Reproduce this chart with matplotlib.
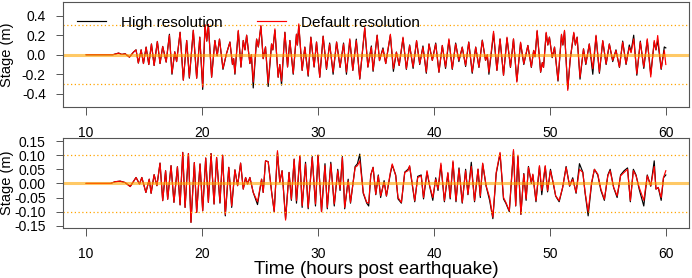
import matplotlib
matplotlib.use('Agg')
import matplotlib.pyplot as plt

plt.rcParams['font.family'] = ['Liberation Sans', 'DejaVu Sans']

# ---- stage turning points, (hours, metres) ----
# top panel, default resolution (red)
def_top = [
    (10.0, 0.0), (12.3, 0.0), (12.8, 0.017), (13.07, 0.003), (13.36, 0.01),
    (13.73, -0.024), (14.08, 0.027), (14.3, 0.05), (14.5, -0.085), (14.74, 0.05),
    (14.94, -0.09), (15.17, 0.078), (15.4, -0.1), (15.63, 0.11), (15.86, -0.11),
    (16.14, 0.136), (16.37, -0.09), (16.6, 0.085), (16.9, -0.075), (17.18, 0.2),
    (17.4, -0.19), (17.64, 0.03), (17.8, -0.07), (18.1, 0.23), (18.38, -0.26),
    (18.67, 0.146), (18.9, -0.23), (19.24, 0.25), (19.53, -0.24), (19.8, 0.18),
    (20.05, -0.33), (20.25, 0.31), (20.4, 0.14), (20.54, 0.31), (20.82, -0.23),
    (21.1, 0.146), (21.3, -0.01), (21.5, 0.16), (21.8, -0.14), (22.1, 0.01),
    (22.4, 0.13), (22.62, -0.1), (22.72, -0.04), (22.83, -0.19), (23.12, 0.25),
    (23.35, -0.126), (23.55, 0.146), (23.7, 0.05), (23.84, 0.2), (24.12, -0.09),
    (24.25, 0.0), (24.41, -0.28), (24.7, 0.16), (24.85, 0.08), (25.07, 0.3),
    (25.27, -0.04), (25.47, 0.08), (25.7, -0.29), (25.99, 0.11), (26.1, 0.05),
    (26.28, 0.265), (26.56, -0.23), (26.7, -0.1), (26.85, -0.27), (27.14, 0.23),
    (27.37, -0.125), (27.57, 0.146), (27.86, -0.19), (28.14, 0.21), (28.22, 0.1),
    (28.34, 0.316), (28.63, -0.16), (28.86, 0.078), (29.15, -0.21), (29.38, 0.18),
    (29.66, -0.125), (29.87, 0.13), (30.15, -0.23), (30.44, 0.19), (30.73, -0.143),
    (31.0, 0.11), (31.3, -0.177), (31.6, 0.13), (31.9, -0.126), (32.2, 0.11),
    (32.45, -0.177), (32.74, 0.163), (33.0, -0.16), (33.3, 0.146), (33.6, -0.245),
    (34.03, 0.28), (34.3, -0.126), (34.6, 0.078), (34.75, -0.16), (35.1, 0.2),
    (35.3, -0.06), (35.6, 0.06), (35.84, -0.09), (36.24, 0.21), (36.5, -0.143),
    (36.76, 0.027), (37.0, -0.11), (37.33, 0.18), (37.62, -0.143), (37.9, 0.095),
    (38.2, -0.126), (38.5, 0.146), (38.77, -0.092), (39.05, 0.078), (39.34, -0.177),
    (39.57, 0.11), (39.86, -0.058), (40.15, 0.11), (40.43, -0.177), (40.72, 0.095),
    (41.0, -0.126), (41.29, 0.163), (41.58, -0.143), (41.87, 0.11), (42.15, -0.058),
    (42.44, 0.078), (42.73, -0.109), (43.0, 0.129), (43.3, -0.177), (43.6, 0.078),
    (43.88, -0.126), (44.17, 0.146), (44.45, -0.058), (44.6, 0.0), (44.74, -0.177),
    (45.14, 0.24), (45.43, -0.16), (45.7, 0.163), (46.0, -0.21), (46.3, 0.18),
    (46.6, -0.126), (46.86, 0.163), (47.15, -0.28), (47.47, 0.129), (47.75, -0.092),
    (48.1, 0.095), (48.4, -0.126), (48.6, 0.044), (48.72, -0.02), (48.9, 0.25),
    (49.2, -0.177), (49.35, -0.08), (49.45, -0.13), (49.68, 0.23), (49.82, 0.1),
    (49.96, 0.18), (50.2, -0.024), (50.4, 0.078), (50.7, -0.26), (51.0, 0.21),
    (51.12, 0.1), (51.26, 0.25), (51.54, -0.365), (51.75, -0.05), (52.06, 0.23),
    (52.2, 0.1), (52.35, 0.18), (52.6, -0.23), (52.9, 0.06), (53.1, -0.092),
    (53.4, 0.11), (53.7, -0.143), (53.98, 0.2), (54.27, -0.177), (54.56, 0.146),
    (54.85, -0.092), (55.13, 0.11), (55.42, -0.058), (55.7, 0.044), (56.0, -0.126),
    (56.28, 0.129), (56.57, -0.092), (56.85, 0.078), (57.0, 0.02), (57.23, 0.163),
    (57.5, -0.194), (57.8, 0.129), (58.1, -0.126), (58.4, 0.163), (58.7, -0.228),
    (59.0, 0.146), (59.15, 0.05), (59.3, 0.197), (59.6, -0.143), (59.87, 0.044),
    (60.0, -0.1),
]

# top panel, high resolution (black)
hi_top = [
    (10.0, 0.0), (12.3, 0.0), (12.8, 0.017), (13.07, 0.003), (13.36, 0.01),
    (13.73, -0.024), (14.08, 0.027), (14.3, 0.05), (14.5, -0.085), (14.74, 0.05),
    (14.94, -0.09), (15.17, 0.078), (15.4, -0.1), (15.63, 0.11), (15.86, -0.11),
    (16.14, 0.136), (16.37, -0.09), (16.6, 0.085), (16.9, -0.075), (17.18, 0.21),
    (17.4, -0.2), (17.64, 0.03), (17.8, -0.07), (18.1, 0.23), (18.38, -0.26),
    (18.67, 0.146), (18.9, -0.24), (19.24, 0.25), (19.53, -0.24), (19.8, 0.18),
    (20.05, -0.355), (20.25, 0.3), (20.4, 0.14), (20.54, 0.31), (20.82, -0.23),
    (21.1, 0.146), (21.3, -0.01), (21.5, 0.16), (21.8, -0.15), (22.1, 0.01),
    (22.4, 0.13), (22.62, -0.1), (22.72, -0.04), (22.83, -0.2), (23.12, 0.24),
    (23.35, -0.126), (23.55, 0.146), (23.7, 0.05), (23.84, 0.2), (24.12, -0.09),
    (24.25, 0.0), (24.41, -0.34), (24.7, 0.16), (24.85, 0.08), (25.07, 0.29),
    (25.27, -0.04), (25.47, 0.08), (25.7, -0.325), (25.99, 0.11), (26.1, 0.05),
    (26.28, 0.25), (26.56, -0.23), (26.7, -0.1), (26.85, -0.31), (27.14, 0.23),
    (27.37, -0.125), (27.57, 0.146), (27.86, -0.2), (28.14, 0.21), (28.22, 0.1),
    (28.34, 0.3), (28.63, -0.16), (28.86, 0.078), (29.15, -0.22), (29.38, 0.18),
    (29.66, -0.125), (29.87, 0.13), (30.15, -0.23), (30.44, 0.19), (30.73, -0.15),
    (31.0, 0.12), (31.3, -0.2), (31.6, 0.13), (31.9, -0.13), (32.2, 0.12),
    (32.45, -0.2), (32.74, 0.15), (33.0, -0.16), (33.3, 0.16), (33.6, -0.25),
    (34.03, 0.27), (34.3, -0.126), (34.6, 0.09), (34.75, -0.17), (35.1, 0.2),
    (35.3, -0.06), (35.6, 0.07), (35.84, -0.09), (36.24, 0.2), (36.5, -0.17),
    (36.76, 0.027), (37.0, -0.11), (37.33, 0.17), (37.62, -0.15), (37.9, 0.1),
    (38.2, -0.14), (38.5, 0.14), (38.77, -0.1), (39.05, 0.09), (39.34, -0.19),
    (39.57, 0.11), (39.86, -0.058), (40.15, 0.12), (40.43, -0.18), (40.72, 0.095),
    (41.0, -0.14), (41.29, 0.15), (41.58, -0.15), (41.87, 0.12), (42.15, -0.07),
    (42.44, 0.078), (42.73, -0.12), (43.0, 0.13), (43.3, -0.19), (43.6, 0.078),
    (43.88, -0.13), (44.17, 0.15), (44.45, -0.058), (44.6, 0.0), (44.74, -0.2),
    (45.14, 0.22), (45.43, -0.16), (45.7, 0.16), (46.0, -0.21), (46.3, 0.17),
    (46.6, -0.13), (46.86, 0.16), (47.15, -0.27), (47.47, 0.12), (47.75, -0.1),
    (48.1, 0.095), (48.4, -0.13), (48.6, 0.044), (48.72, -0.02), (48.9, 0.24),
    (49.2, -0.18), (49.35, -0.08), (49.45, -0.13), (49.68, 0.22), (49.82, 0.1),
    (49.96, 0.18), (50.2, -0.03), (50.4, 0.078), (50.7, -0.27), (51.0, 0.2),
    (51.12, 0.1), (51.26, 0.24), (51.54, -0.35), (51.75, -0.05), (52.06, 0.22),
    (52.2, 0.1), (52.35, 0.18), (52.6, -0.25), (52.9, 0.06), (53.1, -0.1),
    (53.4, 0.11), (53.7, -0.2), (53.98, 0.19), (54.27, -0.19), (54.56, 0.14),
    (54.85, -0.1), (55.13, 0.11), (55.42, -0.07), (55.7, 0.05), (56.0, -0.13),
    (56.28, 0.14), (56.57, -0.1), (56.85, 0.1), (57.0, 0.03), (57.23, 0.2),
    (57.5, -0.21), (57.8, 0.14), (58.1, -0.14), (58.4, 0.15), (58.7, -0.2),
    (59.0, 0.13), (59.15, 0.05), (59.3, 0.15), (59.6, -0.15), (59.87, 0.08),
    (60.0, 0.07),
]

# bottom panel, default resolution (red)
def_bot = [
    (10.0, 0.0), (12.1, 0.0), (12.5, 0.006), (12.93, 0.008), (13.36, 0.003),
    (13.8, -0.011), (14.3, 0.021), (14.6, -0.002), (14.8, 0.021), (15.15, -0.032),
    (15.44, 0.015), (15.6, -0.035), (15.86, 0.031), (16.1, -0.008), (16.37, 0.072),
    (16.6, -0.061), (16.85, 0.045), (17.03, -0.056), (17.32, 0.063), (17.57, -0.067),
    (17.87, 0.059), (18.1, -0.076), (18.33, 0.11), (18.53, -0.085), (18.82, 0.106),
    (19.04, -0.138), (19.33, 0.074), (19.53, -0.103), (19.82, 0.069), (20.05, -0.097),
    (20.31, 0.09), (20.54, -0.067), (20.77, 0.106), (21.03, -0.073), (21.25, 0.092),
    (21.54, -0.067), (21.77, 0.1), (22.0, -0.11), (22.3, 0.057), (22.55, -0.08),
    (22.83, 0.048), (23.06, -0.008), (23.32, 0.072), (23.55, -0.02), (23.75, 0.021),
    (23.92, -0.002), (24.12, 0.021), (24.41, -0.032), (24.78, -0.065), (25.13, 0.015),
    (25.27, -0.032), (25.47, 0.08), (25.7, 0.077), (26.0, -0.032), (26.22, -0.1),
    (26.5, 0.116), (26.7, 0.004), (26.9, 0.045), (27.2, -0.13), (27.5, 0.039),
    (27.7, -0.056), (27.94, 0.086), (28.14, -0.061), (28.43, 0.098), (28.63, -0.079),
    (28.92, 0.069), (29.15, -0.085), (29.5, 0.092), (29.78, -0.073), (30.0, 0.1),
    (30.3, -0.1), (30.6, 0.063), (30.8, -0.085), (31.1, 0.069), (31.4, -0.073),
    (31.7, 0.045), (31.9, -0.02), (32.1, 0.092), (32.3, -0.085), (32.6, 0.009),
    (32.8, -0.067), (33.2, 0.057), (33.4, 0.063), (33.6, 0.08), (33.9, -0.032),
    (34.2, -0.067), (34.37, -0.07), (34.55, 0.03), (34.75, 0.057), (34.98, -0.038),
    (35.2, 0.027), (35.4, -0.044), (35.7, 0.004), (35.9, -0.044), (36.24, 0.039),
    (36.4, 0.069), (36.7, 0.027), (36.9, -0.05), (37.19, -0.067), (37.48, 0.039),
    (37.76, 0.045), (37.9, 0.063), (38.2, -0.02), (38.34, -0.061), (38.6, 0.021),
    (38.9, 0.027), (39.1, -0.05), (39.4, 0.045), (39.63, -0.008), (39.9, -0.05),
    (40.15, 0.015), (40.35, -0.02), (40.6, 0.072), (40.9, -0.061), (41.2, 0.039),
    (41.4, -0.05), (41.64, 0.08), (41.9, -0.061), (42.16, 0.051), (42.44, -0.067),
    (42.73, 0.045), (42.93, -0.038), (43.22, 0.06), (43.5, -0.061), (43.8, 0.051),
    (44.0, -0.044), (44.2, 0.072), (44.5, -0.008), (44.8, -0.05), (45.08, -0.12),
    (45.37, 0.039), (45.7, 0.11), (46.0, -0.05), (46.2, -0.067), (46.5, -0.097),
    (46.86, 0.12), (47.05, -0.079), (47.24, 0.1), (47.5, -0.109), (47.75, 0.033),
    (47.95, -0.055), (48.15, 0.057), (48.4, 0.004), (48.53, 0.033), (48.8, -0.061),
    (49.1, 0.063), (49.3, -0.025), (49.6, 0.063), (49.8, -0.026), (50.05, 0.045),
    (50.34, -0.008), (50.5, -0.044), (50.8, -0.061), (51.1, -0.014), (51.4, 0.057),
    (51.7, -0.008), (51.97, 0.015), (52.26, -0.032), (52.55, 0.05), (52.84, 0.039),
    (53.04, -0.032), (53.3, -0.1), (53.6, 0.004), (53.84, 0.05), (54.13, 0.033),
    (54.4, -0.02), (54.7, -0.056), (55.0, 0.027), (55.2, 0.045), (55.5, -0.014),
    (55.8, -0.044), (56.1, 0.027), (56.4, 0.039), (56.7, 0.05), (56.94, -0.061),
    (57.2, 0.045), (57.43, 0.027), (57.7, -0.014), (58.1, -0.06), (58.4, 0.027),
    (58.7, -0.008), (59.0, 0.06), (59.15, -0.02), (59.35, -0.014), (59.6, -0.05),
    (59.8, 0.021), (60.0, 0.045),
]

# bottom panel, high resolution (black)
hi_bot = [
    (10.0, 0.0), (12.1, 0.0), (12.5, 0.006), (12.93, 0.008), (13.36, 0.003),
    (13.8, -0.011), (14.3, 0.021), (14.6, -0.002), (14.8, 0.021), (15.15, -0.032),
    (15.44, 0.015), (15.6, -0.035), (15.86, 0.031), (16.1, -0.008), (16.37, 0.072),
    (16.6, -0.061), (16.85, 0.045), (17.03, -0.056), (17.32, 0.063), (17.57, -0.067),
    (17.87, 0.059), (18.1, -0.076), (18.33, 0.11), (18.53, -0.085), (18.82, 0.106),
    (19.04, -0.138), (19.33, 0.074), (19.53, -0.103), (19.82, 0.069), (20.05, -0.097),
    (20.31, 0.09), (20.54, -0.067), (20.77, 0.106), (21.03, -0.073), (21.25, 0.092),
    (21.54, -0.07), (21.77, 0.1), (22.0, -0.115), (22.3, 0.057), (22.55, -0.085),
    (22.83, 0.048), (23.06, -0.008), (23.32, 0.072), (23.55, -0.02), (23.75, 0.021),
    (23.92, -0.002), (24.12, 0.021), (24.41, -0.032), (24.78, -0.075), (25.13, 0.015),
    (25.27, -0.032), (25.47, 0.08), (25.7, 0.077), (26.0, -0.032), (26.22, -0.1),
    (26.5, 0.11), (26.7, 0.004), (26.9, 0.045), (27.2, -0.125), (27.5, 0.039),
    (27.7, -0.06), (27.94, 0.086), (28.14, -0.07), (28.43, 0.095), (28.63, -0.085),
    (28.92, 0.075), (29.15, -0.09), (29.5, 0.095), (29.78, -0.08), (30.0, 0.1),
    (30.3, -0.1), (30.6, 0.07), (30.8, -0.09), (31.1, 0.075), (31.4, -0.08),
    (31.7, 0.05), (31.9, -0.025), (32.1, 0.095), (32.3, -0.09), (32.6, 0.015),
    (32.8, -0.07), (33.2, 0.06), (33.4, 0.07), (33.6, 0.104), (33.9, -0.035),
    (34.2, -0.07), (34.37, -0.08), (34.55, 0.03), (34.75, 0.057), (34.98, -0.04),
    (35.2, 0.03), (35.4, -0.05), (35.7, 0.01), (35.9, -0.045), (36.24, 0.035),
    (36.4, 0.065), (36.7, 0.03), (36.9, -0.055), (37.19, -0.07), (37.48, 0.04),
    (37.76, 0.05), (37.9, 0.06), (38.2, -0.025), (38.34, -0.065), (38.6, 0.025),
    (38.9, 0.03), (39.1, -0.055), (39.4, 0.04), (39.63, -0.01), (39.9, -0.06),
    (40.15, 0.02), (40.35, -0.025), (40.6, 0.065), (40.9, -0.065), (41.2, 0.035),
    (41.4, -0.055), (41.64, 0.075), (41.9, -0.065), (42.16, 0.055), (42.44, -0.07),
    (42.73, 0.05), (42.93, -0.04), (43.22, 0.075), (43.5, -0.065), (43.8, 0.05),
    (44.0, -0.05), (44.2, 0.07), (44.5, -0.01), (44.8, -0.06), (45.08, -0.125),
    (45.37, 0.035), (45.7, 0.105), (46.0, -0.055), (46.2, -0.07), (46.5, -0.1),
    (46.86, 0.115), (47.05, -0.08), (47.24, 0.095), (47.5, -0.11), (47.75, 0.035),
    (47.95, -0.06), (48.15, 0.06), (48.4, 0.0), (48.53, 0.03), (48.8, -0.065),
    (49.1, 0.06), (49.3, -0.04), (49.6, 0.06), (49.8, -0.03), (50.05, 0.05),
    (50.34, -0.01), (50.5, -0.045), (50.8, -0.065), (51.1, -0.015), (51.4, 0.06),
    (51.7, -0.01), (51.97, 0.02), (52.26, -0.035), (52.55, 0.07), (52.84, 0.04),
    (53.04, -0.035), (53.3, -0.115), (53.6, 0.0), (53.84, 0.05), (54.13, 0.03),
    (54.4, -0.025), (54.7, -0.06), (55.0, 0.03), (55.2, 0.05), (55.5, -0.015),
    (55.8, -0.05), (56.1, 0.03), (56.4, 0.045), (56.7, 0.055), (56.94, -0.065),
    (57.2, 0.05), (57.43, 0.03), (57.7, -0.02), (58.1, -0.08), (58.4, 0.03),
    (58.7, -0.01), (59.0, 0.08), (59.15, -0.02), (59.35, -0.015), (59.6, -0.06),
    (59.8, 0.02), (60.0, 0.03),
]

x_ticks = [10, 20, 30, 40, 50, 60]
top_yticks = [-0.4, -0.2, 0.0, 0.2, 0.4]
bot_yticks = [-0.15, -0.10, -0.05, 0.0, 0.05, 0.10, 0.15]

fig = plt.figure(figsize=(6.92, 2.78), dpi=100)
W, H = 692.0, 278.0
ax1 = fig.add_axes([63 / W, 1 - 107 / H, 626 / W, 105 / H])
ax2 = fig.add_axes([63 / W, 1 - 228 / H, 626 / W, 90 / H])


def panel(ax, hi, lo, ref, yticks, fmt, ylim):
    t, v = zip(*hi)
    ax.plot(t, v, color='black', lw=0.85, label='High resolution')
    t, v = zip(*lo)
    ax.plot(t, v, color='red', lw=0.85, label='Default resolution')
    ax.axhline(0, color='#FFA500', lw=2.2, alpha=0.6)
    ax.axhline(ref, color='#FFA500', lw=0.9, ls=(0, (1, 2)))
    ax.axhline(-ref, color='#FFA500', lw=0.9, ls=(0, (1, 2)))
    ax.set_xlim(8, 62)
    ax.set_ylim(*ylim)
    ax.set_xticks(x_ticks)
    ax.set_yticks(yticks)
    ax.set_yticklabels([fmt % y for y in yticks])
    ax.tick_params(direction='out', length=5.4, width=0.7, color='#555555',
                   labelsize=10, pad=7)
    ax.tick_params(axis='x', pad=8)
    for s in ax.spines.values():
        s.set_color('#555555')
        s.set_linewidth(0.8)
    ax.set_ylabel('Stage (m)', fontsize=10.5)
    ax.yaxis.set_label_coords(-0.078, 0.5)


panel(ax1, hi_top, def_top, 0.3, top_yticks, '%.1f', (-0.535, 0.54))
panel(ax2, hi_bot, def_bot, 0.1, bot_yticks, '%.2f', (-0.158, 0.161))

ax2.set_xlabel('Time (hours post earthquake)', fontsize=13.5, labelpad=0)

ax1.legend(loc='upper left', bbox_to_anchor=(0.0224, 0.87), ncol=2, frameon=False,
           fontsize=11, handlelength=1.9, handletextpad=1.0, columnspacing=2.2,
           borderaxespad=0.0, borderpad=0.0)

fig.savefig('out.png', dpi=100)
